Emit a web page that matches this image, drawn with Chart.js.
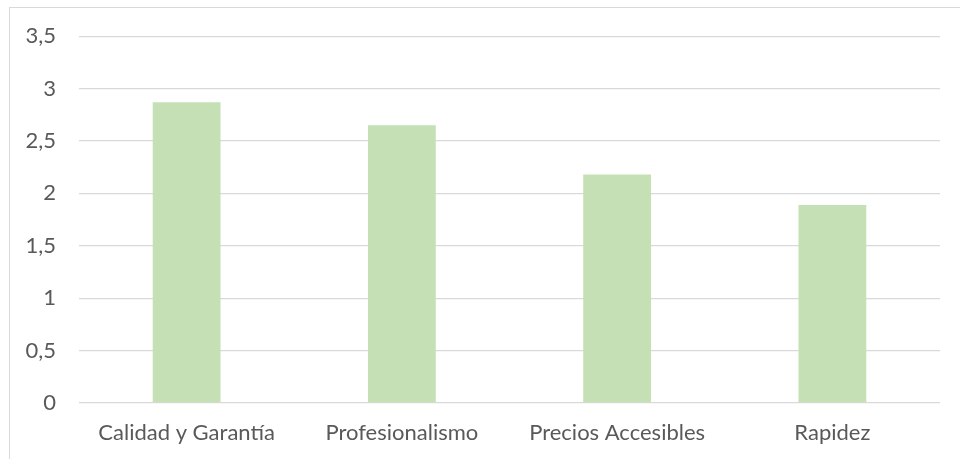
<!DOCTYPE html>
<html>
<head>
<meta charset="utf-8">
<script src="https://cdn.jsdelivr.net/npm/chart.js@4/dist/chart.umd.min.js"></script>
<style>
    html, body { margin: 0; padding: 0; background: #fff; }
    #wrap { position: relative; width: 960px; height: 459px; overflow: hidden; }
    #frame { position: absolute; left: 9px; top: 7px; width: 1000px; height: 500px; border: 1px solid #d9d9d9; }
    canvas { position: absolute; left: 0; top: 0; }
</style>
</head>
<body>
<div id="wrap">
    <div id="frame"></div>
    <canvas id="chart" width="960" height="459"></canvas>
</div>
<script>
const categories = ['Calidad y Garantía', 'Profesionalismo', 'Precios Accesibles', 'Rapidez']
const values = [2.87, 2.65, 2.18, 1.89]
const yTicks = [0, 0.5, 1, 1.5, 2, 2.5, 3, 3.5]

const barColor = '#c5e0b4'
const gridColor = '#d9d9d9'
const textColor = '#595959'

var ctx = document.getElementById('chart').getContext('2d')

var config = {
    type: 'bar',
    data: {
        labels: categories,
        datasets: [{
            data: values,
            backgroundColor: barColor,
            borderWidth: 0,
            categoryPercentage: 1,
            barPercentage: 0.315
        }]
    },
    options: {
        responsive: false,
        animation: false,
        layout: { padding: { top: 36, right: 20, left: 0, bottom: 0 } },
        plugins: {
            legend: { display: false },
            tooltip: { enabled: false }
        },
        scales: {
            x: {
                grid: { display: false, drawTicks: false },
                border: { display: false },
                ticks: {
                    color: textColor,
                    font: { family: 'Lato', size: 22 },
                    padding: 17,
                    maxRotation: 0
                },
                afterFit: (scale) => { scale.height = 56 }
            },
            y: {
                min: 0,
                max: 3.5,
                afterBuildTicks: (scale) => {
                    scale.ticks = yTicks.map(v => ({ value: v }))
                },
                grid: { color: gridColor, lineWidth: 1.3, drawTicks: false },
                border: { display: false },
                ticks: {
                    color: textColor,
                    font: { family: 'Lato', size: 22 },
                    padding: 23,
                    callback: (v) => String(v).replace('.', ',')
                },
                afterFit: (scale) => { scale.width = 79 }
            }
        }
    }
}

window.myBar = new Chart(ctx, config)
</script>
</body>
</html>
